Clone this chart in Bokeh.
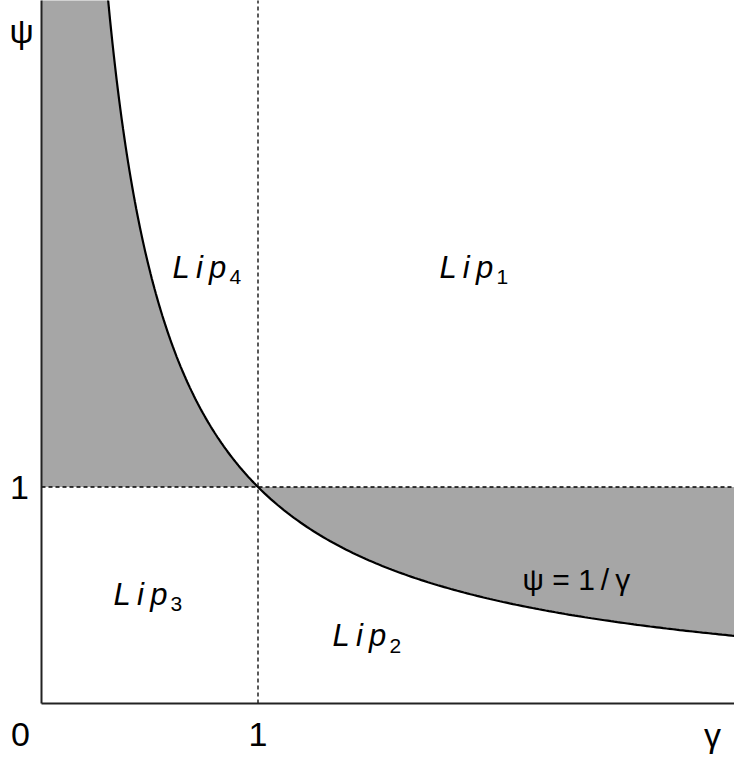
import numpy as np
from bokeh.plotting import figure
from bokeh.models import Range1d, ColumnDataSource
from bokeh.core.properties import value
from bokeh.embed import file_html
from bokeh.resources import INLINE

# ---- data ----
gamma_left = np.linspace(0.28, 1.0, 120)
gamma_right = np.linspace(1.0, 3.4, 160)
psi_left = 1.0 / gamma_left          # boundary psi = 1/gamma
psi_right = 1.0 / gamma_right
threshold = 1.0                      # gamma = 1 and psi = 1 guide lines

x_tick_values = [0, 1]
x_tick_labels = ["0", "1"]
y_tick_values = [1]
y_tick_labels = ["1"]

region_names = ["Lip", "Lip", "Lip", "Lip"]
region_subs = ["1", "2", "3", "4"]
region_x = [1.838, 1.344, 0.333, 0.605]
region_y = [1.977, 0.277, 0.467, 1.977]

curve_label = "ψ = 1\u2009/\u2009γ"
curve_label_x = 2.222
curve_label_y = 0.540

# ---- layout (pixels) ----
W, H = 734, 758
PX = 216.5            # pixels per unit
X0_PX = 41            # x=0 position from figure left
Y0_PX = 703           # y=0 position from figure top
x_start, x_end = -X0_PX / PX, (W - X0_PX) / PX
y_start, y_end = -(H - Y0_PX) / PX, Y0_PX / PX

p = figure(width=W, height=H, output_backend="svg", toolbar_location=None,
           x_range=Range1d(x_start, x_end), y_range=Range1d(y_start, y_end),
           min_border=0, min_border_left=0, min_border_right=0,
           min_border_top=0, min_border_bottom=0)
p.axis.visible = False
p.grid.visible = False
p.outline_line_color = None
p.background_fill_color = "white"
p.border_fill_color = "white"

GRAY = "#a6a6a6"

# shaded regions
lx = [0.0] + list(gamma_left) + [0.0]
ly = [psi_left[0]] + list(psi_left) + [threshold]
rx = list(gamma_right) + [gamma_right[-1]]
ry = list(psi_right) + [threshold]
p.patches(xs=[lx, rx], ys=[ly, ry], fill_color=GRAY, line_color=None)

# dashed guide lines
p.segment(x0=[threshold, 0.0], y0=[0.0, threshold],
          x1=[threshold, x_end + 1], y1=[y_end + 1, threshold],
          line_color="black", line_width=1.3, line_dash="4 3")

# boundary curve
p.line(np.concatenate([gamma_left, gamma_right[1:]]),
       np.concatenate([psi_left, psi_right[1:]]),
       line_color="black", line_width=2.2)

# axes lines
p.segment(x0=[0.0, 0.0], y0=[0.0, 0.0], x1=[0.0, x_end + 1], y1=[y_end + 1, 0.0],
          line_color="#222222", line_width=2)

FONT = value("Liberation Sans")

# tick labels
p.text(x=x_tick_values[1:], y=[0.0], text=x_tick_labels[1:], text_font=FONT,
       text_font_size="34px", text_align="center", text_baseline="middle",
       y_offset=31, text_color="black")
p.text(x=[0.0], y=[0.0], text=[x_tick_labels[0]], text_font=FONT,
       text_font_size="34px", text_align="center", text_baseline="middle",
       x_offset=-21, y_offset=31, text_color="black")
p.text(x=[0.0], y=y_tick_values, text=y_tick_labels, text_font=FONT,
       text_font_size="34px", text_align="center", text_baseline="middle",
       x_offset=-22, text_color="black")

# axis names
p.text(x=[x_end], y=[0.0], text=["γ"], text_font=FONT, text_font_size="34px",
       text_align="center", text_baseline="middle", x_offset=-22, y_offset=31,
       text_color="black")
p.text(x=[0.0], y=[y_end], text=["ψ"], text_font=FONT, text_font_size="34px",
       text_align="center", text_baseline="middle", x_offset=-20, y_offset=30,
       text_color="black")

# region labels
src = ColumnDataSource(dict(x=region_x, y=region_y,
                            name=[n[0] + "\u2009" + n[1] + "\u2009" + n[2] for n in region_names],
                            sub=region_subs))
p.text(x="x", y="y", text="name", source=src, text_font=FONT,
       text_font_style="italic", text_font_size="31px", text_align="left",
       text_baseline="alphabetic", y_offset=-8, text_color="black")
p.text(x="x", y="y", text="sub", source=src, text_font=FONT,
       text_font_size="21px", text_align="left", text_baseline="alphabetic",
       x_offset=57, y_offset=2, text_color="black")

# curve label
p.text(x=[curve_label_x], y=[curve_label_y], text=[curve_label], text_font=FONT,
       text_font_size="30px", text_align="left", text_baseline="alphabetic",
       y_offset=-7, text_color="black")

open("out.html", "w").write(file_html(p, INLINE))
